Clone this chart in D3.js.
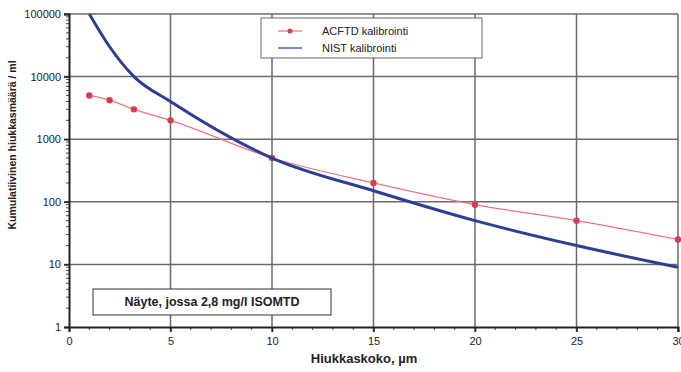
<!DOCTYPE html>
<html>
<head>
<meta charset="utf-8">
<script src="https://cdn.jsdelivr.net/npm/d3@7"></script>
<style>
  body { margin: 0; background: #fff; }
  text { font-family: "Liberation Sans", Arial, sans-serif; fill: #222; }
</style>
</head>
<body>
<svg></svg>
<script>
/* data */
const acftdX = [1, 2, 3.2, 5, 10, 15, 20, 25, 30];
const acftdY = [5000, 4200, 3000, 2000, 500, 200, 90, 50, 25];
const nistX = [1, 2, 3.2, 5, 10, 15, 20, 25, 30];
const nistY = [100000, 30000, 10000, 4000, 500, 150, 50, 20, 9];
const xTicks = [0, 5, 10, 15, 20, 25, 30];
const yTicks = [1, 10, 100, 1000, 10000, 100000];
const legendLabels = ['ACFTD kalibrointi', 'NIST kalibrointi'];
const noteText = 'Näyte, jossa 2,8 mg/l ISOMTD';

const width = 681, height = 372;
const margin = {T: 14, B: 45, L: 69, R: 3};

const svg = d3.select('svg').attr('width', width).attr('height', height);

const x = d3.scaleLinear().domain([0, 30]).range([margin.L, width - margin.R]);
const y = d3.scaleLog().domain([1, 100000]).range([height - margin.B, margin.T]);

/* grid */
const grid = svg.append('g');
grid.selectAll('line.v').data(xTicks.slice(1)).enter().append('line')
  .attr('x1', d => x(d)).attr('x2', d => x(d))
  .attr('y1', y(100000)).attr('y2', y(1) + 5)
  .attr('stroke', '#6a6a6a').attr('stroke-width', 1.5);
grid.selectAll('line.h').data(yTicks.slice(1)).enter().append('line')
  .attr('x1', x(0) - 5).attr('x2', x(30))
  .attr('y1', d => y(d)).attr('y2', d => y(d))
  .attr('stroke', '#6a6a6a').attr('stroke-width', 1.5);

/* minor ticks */
const minorX = d3.range(0, 31).filter(d => d % 5 !== 0);
svg.append('g').selectAll('line').data(minorX).enter().append('line')
  .attr('x1', d => x(d)).attr('x2', d => x(d))
  .attr('y1', y(1)).attr('y2', y(1) + 3)
  .attr('stroke', '#444').attr('stroke-width', 1);
const minorY = [];
yTicks.slice(0, -1).forEach(p => { for (let k = 2; k < 10; k++) minorY.push(p * k); });
svg.append('g').selectAll('line').data(minorY).enter().append('line')
  .attr('x1', x(0) - 3).attr('x2', x(0))
  .attr('y1', d => y(d)).attr('y2', d => y(d))
  .attr('stroke', '#444').attr('stroke-width', 1);

/* axes */
const xAxis = svg.append('g')
  .attr('transform', `translate(0,${y(1)})`)
  .call(d3.axisBottom(x).tickValues(xTicks).tickSize(5).tickPadding(5).tickFormat(d3.format('d')));
const yAxis = svg.append('g')
  .attr('transform', `translate(${x(0)},0)`)
  .call(d3.axisLeft(y).tickValues(yTicks).tickSize(5).tickPadding(3).tickFormat(d3.format('d')));
[xAxis, yAxis].forEach(a => {
  a.select('.domain').attr('stroke', '#222').attr('stroke-width', 2);
  a.selectAll('.tick line').attr('stroke', '#222').attr('stroke-width', 1.5);
  a.selectAll('.tick text').attr('font-size', 11).attr('fill', '#222')
    .style('font-family', '"Liberation Sans", Arial, sans-serif');
});

/* lines */
const line = d3.line().x(d => x(d[0])).y(d => y(d[1])).curve(d3.curveMonotoneX);
const acftd = acftdX.map((d, i) => [d, acftdY[i]]);
const nist = nistX.map((d, i) => [d, nistY[i]]);

svg.append('path').datum(acftd).attr('d', line)
  .attr('fill', 'none').attr('stroke', '#f0737c').attr('stroke-width', 1.2);
svg.append('g').selectAll('circle').data(acftd).enter().append('circle')
  .attr('cx', d => x(d[0])).attr('cy', d => y(d[1])).attr('r', 3.2)
  .attr('fill', '#d93a4e');
svg.append('path').datum(nist).attr('d', line)
  .attr('fill', 'none').attr('stroke', '#2c3f94').attr('stroke-width', 3);

/* legend */
const lg = svg.append('g').attr('transform', 'translate(261,18)');
lg.append('rect').attr('width', 221).attr('height', 40)
  .attr('fill', '#fff').attr('stroke', '#666').attr('stroke-width', 1);
lg.append('line').attr('x1', 17).attr('x2', 41).attr('y1', 13).attr('y2', 13)
  .attr('stroke', '#f0737c').attr('stroke-width', 1.2);
lg.append('circle').attr('cx', 29).attr('cy', 13).attr('r', 2.5).attr('fill', '#d93a4e');
lg.append('line').attr('x1', 17).attr('x2', 41).attr('y1', 30).attr('y2', 30)
  .attr('stroke', '#6c8ed0').attr('stroke-width', 2);
lg.selectAll('text').data(legendLabels).enter().append('text')
  .attr('x', 61).attr('y', (d, i) => 13 + i * 17).attr('dy', '0.35em')
  .attr('font-size', 11).text(d => d);

/* note box */
const nb = svg.append('g').attr('transform', 'translate(93,289)');
nb.append('rect').attr('width', 238).attr('height', 26)
  .attr('fill', '#fff').attr('stroke', '#333').attr('stroke-width', 1);
nb.append('text').attr('x', 119).attr('y', 13).attr('dy', '0.35em')
  .attr('text-anchor', 'middle').attr('font-size', 12.5).attr('font-weight', 'bold')
  .text(noteText);

/* axis titles */
svg.append('text').attr('x', 364).attr('y', 358).attr('dy', '0.35em')
  .attr('text-anchor', 'middle').attr('font-size', 13).attr('font-weight', 'bold')
  .text('Hiukkaskoko, µm');
svg.append('text').attr('transform', 'translate(12,145) rotate(-90)')
  .attr('dy', '0.35em').attr('text-anchor', 'middle')
  .attr('font-size', 10.5).attr('font-weight', 'bold')
  .text('Kumulatiivinen hiukkasmäärä / ml');
</script>
</body>
</html>
